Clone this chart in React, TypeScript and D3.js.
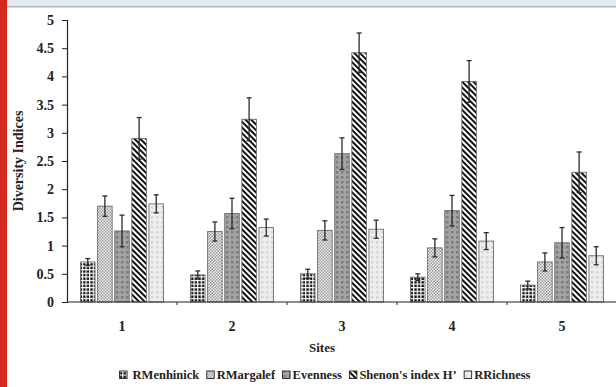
import React, { useEffect, useRef } from 'react';
import * as d3 from 'd3';

// data
const sites = ['1', '2', '3', '4', '5'];
const seriesNames = ['RMenhinick', 'RMargalef', 'Evenness', "Shenon's index H\u2019", 'RRichness'];
const menhinick = [0.71, 0.48, 0.5, 0.44, 0.3];
const margalef = [1.7, 1.25, 1.27, 0.96, 0.71];
const evenness = [1.26, 1.57, 2.63, 1.62, 1.05];
const shannon = [2.9, 3.24, 4.42, 3.91, 2.3];
const richness = [1.74, 1.32, 1.29, 1.08, 0.82];
const menhinickErr = [0.06, 0.07, 0.08, 0.06, 0.07];
const margalefErr = [0.18, 0.17, 0.17, 0.16, 0.16];
const evennessErr = [0.28, 0.27, 0.28, 0.27, 0.27];
const shannonErr = [0.37, 0.38, 0.35, 0.37, 0.36];
const richnessErr = [0.16, 0.15, 0.16, 0.15, 0.16];
const yTicks = [0, 0.5, 1, 1.5, 2, 2.5, 3, 3.5, 4, 4.5, 5];

const values = [menhinick, margalef, evenness, shannon, richness];
const errors = [menhinickErr, margalefErr, evennessErr, shannonErr, richnessErr];

const FONT = '"Liberation Serif", "Times New Roman", serif';

const App = () => {
  const svgRef = useRef<SVGSVGElement>(null);
  const width = 616;
  const height = 387;
  const margin = { top: 20, right: -1, bottom: 85, left: 67 };

  useEffect(() => {
    const svg = d3.select(svgRef.current);
    svg.selectAll('*').remove();

    // page furniture
    svg.append('rect').attr('width', width).attr('height', height).attr('fill', '#fff');
    svg.append('rect').attr('x', 0).attr('y', 0).attr('width', width).attr('height', 6).attr('fill', '#e3e9f1');
    svg.append('rect').attr('x', 0).attr('y', 6).attr('width', width).attr('height', 1.5).attr('fill', '#b3b6ba');
    svg.append('rect').attr('x', 0).attr('y', 0).attr('width', 7).attr('height', height).attr('fill', '#d52b1e');

    // patterns
    const defs = svg.append('defs');
    const p0 = defs.append('pattern').attr('id', 'p0').attr('patternUnits', 'userSpaceOnUse')
      .attr('width', 3.6).attr('height', 3.6);
    p0.append('rect').attr('width', 3.6).attr('height', 3.6).attr('fill', '#fff');
    p0.append('rect').attr('x', 0.3).attr('y', 0.3).attr('width', 2.4).attr('height', 2.4).attr('fill', '#111');

    const p1 = defs.append('pattern').attr('id', 'p1').attr('patternUnits', 'userSpaceOnUse')
      .attr('width', 3).attr('height', 3);
    p1.append('rect').attr('width', 3).attr('height', 3).attr('fill', '#f2f2f2');
    p1.append('rect').attr('width', 1.5).attr('height', 1.5).attr('fill', '#999');
    p1.append('rect').attr('x', 1.5).attr('y', 1.5).attr('width', 1.5).attr('height', 1.5).attr('fill', '#999');

    const p2 = defs.append('pattern').attr('id', 'p2').attr('patternUnits', 'userSpaceOnUse')
      .attr('width', 5).attr('height', 5);
    p2.append('rect').attr('width', 5).attr('height', 5).attr('fill', '#a4a4a4');
    p2.append('rect').attr('x', 1).attr('y', 1).attr('width', 2.5).attr('height', 2.5).attr('fill', '#7c7c7c');

    const p3 = defs.append('pattern').attr('id', 'p3').attr('patternUnits', 'userSpaceOnUse')
      .attr('width', 4).attr('height', 4).attr('patternTransform', 'rotate(-45)');
    p3.append('rect').attr('width', 4).attr('height', 4).attr('fill', '#fff');
    p3.append('rect').attr('width', 2).attr('height', 4).attr('fill', '#111');

    const p4 = defs.append('pattern').attr('id', 'p4').attr('patternUnits', 'userSpaceOnUse')
      .attr('width', 5).attr('height', 5);
    p4.append('rect').attr('width', 5).attr('height', 5).attr('fill', '#eeeeee');
    p4.append('rect').attr('x', 1).attr('y', 1).attr('width', 2.5).attr('height', 2.5).attr('fill', '#d6d6d6');

    const plotRight = width - margin.right;
    const plotBottom = height - margin.bottom;

    const xScale = d3.scaleBand().domain(sites).range([margin.left, plotRight]).padding(0);
    const xInner = d3.scaleBand()
      .domain(seriesNames)
      .range([13.5, xScale.bandwidth() - 13.5])
      .paddingInner(0.15);
    const yScale = d3.scaleLinear().domain([0, 5]).range([plotBottom, margin.top]);

    // bars
    const g = svg.append('g');
    sites.forEach((site, i) => {
      seriesNames.forEach((name, s) => {
        const v = values[s][i];
        g.append('rect')
          .attr('x', xScale(site)! + xInner(name)!)
          .attr('y', yScale(v))
          .attr('width', xInner.bandwidth())
          .attr('height', yScale(0) - yScale(v))
          .attr('fill', `url(#p${s})`)
          .attr('stroke', '#6e6e6e')
          .attr('stroke-width', 0.9);
      });
    });

    // error bars
    sites.forEach((site, i) => {
      seriesNames.forEach((name, s) => {
        const v = values[s][i];
        const e = errors[s][i];
        const cx = xScale(site)! + xInner(name)! + xInner.bandwidth() / 2;
        g.append('line')
          .attr('x1', cx).attr('x2', cx)
          .attr('y1', yScale(v - e)).attr('y2', yScale(v + e))
          .attr('stroke', '#2a2a2a').attr('stroke-width', 1.3);
        [v - e, v + e].forEach(t => {
          g.append('line')
            .attr('x1', cx - 2.5).attr('x2', cx + 2.5)
            .attr('y1', yScale(t)).attr('y2', yScale(t))
            .attr('stroke', '#2a2a2a').attr('stroke-width', 1.3);
        });
      });
    });

    // y axis
    const yAxis = d3.axisLeft(yScale).tickValues(yTicks).tickSize(5).tickPadding(8)
      .tickFormat(d => String(d));
    const yg = svg.append('g').attr('transform', `translate(${margin.left},0)`).call(yAxis);
    yg.select('.domain').attr('stroke', '#222').attr('stroke-width', 1.2);
    yg.selectAll('.tick line').attr('stroke', '#222');
    yg.selectAll('.tick text')
      .attr('font-family', FONT).attr('font-weight', 'bold').attr('font-size', 14).attr('fill', '#222');

    // x axis
    const xg = svg.append('g');
    xg.append('line')
      .attr('x1', margin.left).attr('x2', width)
      .attr('y1', yScale(0)).attr('y2', yScale(0))
      .attr('stroke', '#222').attr('stroke-width', 1.2);
    sites.slice(1).forEach(site => {
      xg.append('line')
        .attr('x1', xScale(site)!).attr('x2', xScale(site)!)
        .attr('y1', yScale(0)).attr('y2', yScale(0) + 3)
        .attr('stroke', '#222');
    });
    sites.forEach(site => {
      xg.append('text')
        .attr('x', xScale(site)! + xScale.bandwidth() / 2)
        .attr('y', yScale(0) + 29)
        .attr('text-anchor', 'middle')
        .attr('font-family', FONT).attr('font-weight', 'bold').attr('font-size', 14).attr('fill', '#222')
        .text(site);
    });

    // axis titles
    svg.append('text')
      .attr('x', 322).attr('y', 352)
      .attr('text-anchor', 'middle')
      .attr('font-family', FONT).attr('font-weight', 'bold').attr('font-size', 13).attr('fill', '#222')
      .text('Sites');
    svg.append('text')
      .attr('transform', `translate(23, ${(yScale(0) + yScale(5)) / 2}) rotate(-90)`)
      .attr('text-anchor', 'middle')
      .attr('font-family', FONT).attr('font-weight', 'bold').attr('font-size', 14).attr('fill', '#222')
      .text('Diversity Indices');

    // legend, flowed and centred
    const legend = svg.append('g');
    let cursor = 0;
    seriesNames.forEach((name, s) => {
      const item = legend.append('g').attr('transform', `translate(${cursor},0)`);
      item.append('rect')
        .attr('x', 0).attr('y', -8).attr('width', 7.5).attr('height', 7.5)
        .attr('fill', `url(#p${s})`).attr('stroke', '#222').attr('stroke-width', 0.9);
      const t = item.append('text')
        .attr('x', s === 0 ? 13 : 10).attr('y', 0)
        .attr('font-family', FONT).attr('font-weight', 'bold').attr('font-size', 12.5).attr('fill', '#222')
        .text(name);
      const w = (t.node() as SVGTextElement).getComputedTextLength();
      cursor += (s === 0 ? 13 : 10) + w + 7.5;
    });
    const total = cursor - 7.5;
    legend.attr('transform', `translate(${325 - total / 2}, 379)`);
  }, []);

  return (
    <svg ref={svgRef} width={width} height={height}
      style={{ position: 'absolute', left: 0, top: 0, display: 'block' }} />
  );
};

export default App;
